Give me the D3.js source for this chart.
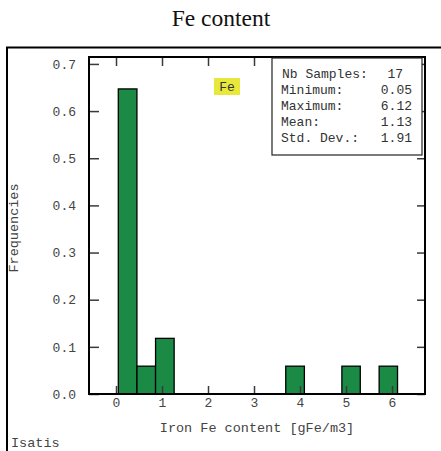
<!DOCTYPE html>
<html><head><meta charset="utf-8">
<script src="https://cdn.jsdelivr.net/npm/d3@7"></script>
<style>body{margin:0;background:#fff}svg{display:block}</style>
</head><body>
<script>
// Data
const binLow = [0.05, 0.455, 0.86, 3.69, 4.91, 5.72];
const binHigh = [0.455, 0.86, 1.264, 4.095, 5.31, 6.12];
const frequency = [0.647, 0.059, 0.118, 0.059, 0.059, 0.059];
const xTicks = [0, 1, 2, 3, 4, 5, 6];
const yTicks = [0.0, 0.1, 0.2, 0.3, 0.4, 0.5, 0.6, 0.7];
const statLabels = ["Minimum:", "Maximum:", "Mean:", "Std. Dev.:"];
const statValues = ["0.05", "6.12", "1.13", "1.91"];
const nbSamples = 17;

const W = 441, H = 451;
const L = 89, R = 425, T = 57, B = 394;
const svg = d3.select("body").append("svg").attr("width", W).attr("height", H);
const mono = "'Liberation Mono','Courier New',monospace";

svg.append("text").attr("x", 221).attr("y", 26).attr("text-anchor", "middle")
  .attr("font-family", "'Liberation Serif','Times New Roman',serif").attr("font-size", 23.5)
  .attr("fill", "#111").text("Fe content");

// outer frame
svg.append("rect").attr("x", 7).attr("y", 47.5).attr("width", 450).attr("height", 420)
  .attr("fill", "none").attr("stroke", "#000").attr("stroke-width", 2);

const x = d3.scaleLinear().domain([-0.587, 6.717]).range([L, R]);
const y = d3.scaleLinear().domain([0, 0.7147]).range([B, T]);

// bars
svg.append("g").selectAll("rect").data(frequency).join("rect")
  .attr("x", (d, i) => x(binLow[i]))
  .attr("width", (d, i) => x(binHigh[i]) - x(binLow[i]))
  .attr("y", d => y(d))
  .attr("height", d => y(0) - y(d))
  .attr("fill", "#1b8a45").attr("stroke", "#000").attr("stroke-width", 1.3);

function styleAxis(g) {
  g.select(".domain").remove();
  g.selectAll(".tick line").attr("stroke", "#3a3a3a").attr("stroke-width", 1.5);
  g.selectAll(".tick text").attr("font-family", mono).attr("font-size", 13).attr("fill", "#444");
}

svg.append("g").attr("transform", `translate(${L},0)`)
  .call(d3.axisLeft(y).tickValues(yTicks).tickFormat(d3.format(".1f")).tickSize(-10).tickPadding(13))
  .call(styleAxis);
svg.append("g").attr("transform", `translate(${R},0)`)
  .call(d3.axisRight(y).tickValues(yTicks).tickFormat("").tickSize(-8))
  .call(styleAxis);
svg.append("g").attr("transform", `translate(0,${B})`)
  .call(d3.axisBottom(x).tickValues(xTicks).tickFormat(d3.format("d")).tickSize(-8).tickPadding(3.5))
  .call(styleAxis);
svg.append("g").attr("transform", `translate(0,${T})`)
  .call(d3.axisTop(x).tickValues(xTicks).tickFormat("").tickSize(-9))
  .call(styleAxis);

// plot frame
svg.append("rect").attr("x", L).attr("y", T).attr("width", R - L).attr("height", B - T)
  .attr("fill", "none").attr("stroke", "#000").attr("stroke-width", 2);

// axis titles
svg.append("text").attr("x", 257).attr("y", 432).attr("text-anchor", "middle")
  .attr("font-family", mono).attr("font-size", 13.5).attr("fill", "#444")
  .text("Iron Fe content [gFe/m3]");
svg.append("text").attr("transform", "translate(18,228) rotate(-90)").attr("text-anchor", "middle")
  .attr("font-family", mono).attr("font-size", 13.5).attr("fill", "#444").text("Frequencies");
svg.append("text").attr("x", 11).attr("y", 447)
  .attr("font-family", mono).attr("font-size", 13.5).attr("fill", "#444").text("Isatis");

// Fe label
svg.append("rect").attr("x", 214).attr("y", 78).attr("width", 26).attr("height", 17).attr("fill", "#e8e83c");
svg.append("text").attr("x", 227).attr("y", 91).attr("text-anchor", "middle")
  .attr("font-family", mono).attr("font-size", 13).attr("fill", "#333").text("Fe");

// stats box
svg.append("rect").attr("x", 272).attr("y", 58).attr("width", 150).attr("height", 97)
  .attr("fill", "#fff").attr("stroke", "#222").attr("stroke-width", 1.2);
const st = svg.append("g").attr("font-family", mono).attr("font-size", 13).attr("fill", "#333");
st.append("text").attr("x", 282).attr("y", 78).text("Nb Samples:");
st.append("text").attr("x", 403).attr("y", 78).attr("text-anchor", "end").text(nbSamples);
st.selectAll(".lab").data(statLabels).join("text").attr("class", "lab")
  .attr("x", 281).attr("y", (d, i) => 94.3 + i * 16).text(d => d);
st.selectAll(".val").data(statValues).join("text").attr("class", "val")
  .attr("x", 412).attr("y", (d, i) => 94.3 + i * 16).attr("text-anchor", "end").text(d => d);
</script>
</body></html>
